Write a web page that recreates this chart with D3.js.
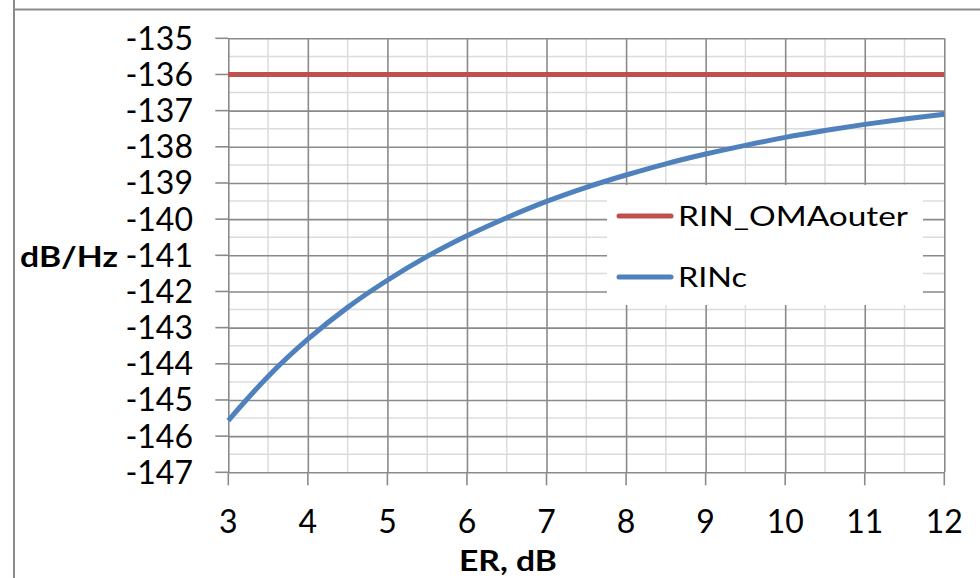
<!DOCTYPE html>
<html>
<head>
<meta charset="utf-8">
<script src="https://cdn.jsdelivr.net/npm/d3@7/dist/d3.min.js"></script>
<style>
  html, body { margin: 0; padding: 0; background: #fff; }
  svg { display: block; }
  text { font-family: Lato, "Noto Sans", sans-serif; fill: #000; }
</style>
</head>
<body>
<svg id="chart" width="980" height="578"></svg>
<script>
// ---- data ----
const erValues = [3, 3.5, 4, 4.5, 5, 5.5, 6, 6.5, 7, 7.5, 8, 8.5, 9, 9.5, 10, 10.5, 11, 11.5, 12];
const rinOMAouter = [-136, -136, -136, -136, -136, -136, -136, -136, -136, -136, -136, -136, -136, -136, -136, -136, -136, -136, -136];
const rinC = [-145.57, -144.35, -143.32, -142.44, -141.69, -141.03, -140.46, -139.96, -139.51, -139.12, -138.78, -138.47, -138.20, -137.96, -137.74, -137.55, -137.38, -137.23, -137.10];
const xTicks = [3, 4, 5, 6, 7, 8, 9, 10, 11, 12];
const yTicks = [-135, -136, -137, -138, -139, -140, -141, -142, -143, -144, -145, -146, -147];
const seriesNames = ["RIN_OMAouter", "RINc"];
const xTitle = "ER, dB";
const yTitle = "dB/Hz";

// ---- layout ----
const svg = d3.select("#chart");
const x = d3.scaleLinear().domain([3, 12]).range([228.3, 944.3]);
const y = d3.scaleLinear().domain([-147, -135]).range([472.3, 38.3]);
const colors = ["#C0504D", "#4F81BD"];
const majorCol = "#8a8a8a", minorCol = "#dcdcdc";

// outer frame
svg.append("line").attr("x1", 14).attr("x2", 14).attr("y1", 0).attr("y2", 578)
  .attr("stroke", "#8c8c8c").attr("stroke-width", 2);
svg.append("line").attr("x1", 14).attr("x2", 980).attr("y1", 9.5).attr("y2", 9.5)
  .attr("stroke", "#8c8c8c").attr("stroke-width", 2);

const g = svg.append("g");

// minor gridlines
const xMinor = d3.range(3.5, 12, 1);
const yMinor = d3.range(-146.5, -135, 1);
g.selectAll("line.xmin").data(xMinor).join("line")
  .attr("x1", d => x(d)).attr("x2", d => x(d)).attr("y1", y(-135)).attr("y2", y(-147))
  .attr("stroke", minorCol).attr("stroke-width", 1.5);
g.selectAll("line.ymin").data(yMinor).join("line")
  .attr("y1", d => y(d)).attr("y2", d => y(d)).attr("x1", x(3)).attr("x2", x(12))
  .attr("stroke", minorCol).attr("stroke-width", 1.5);

// major gridlines via axes
const yAxis = d3.axisLeft(y).tickValues(yTicks).tickSize(-(x(12) - x(3))).tickFormat("");
const xAxis = d3.axisBottom(x).tickValues(xTicks).tickSize(-(y(-147) - y(-135))).tickFormat("");
g.append("g").attr("transform", `translate(${x(3)},0)`).call(yAxis)
  .call(s => s.select(".domain").remove())
  .call(s => s.selectAll("line").attr("stroke", majorCol).attr("stroke-width", 1.6));
g.append("g").attr("transform", `translate(0,${y(-147)})`).call(xAxis)
  .call(s => s.select(".domain").remove())
  .call(s => s.selectAll("line").attr("stroke", majorCol).attr("stroke-width", 1.6));

// outside tick marks
g.selectAll("line.ytk").data(yTicks).join("line")
  .attr("x1", x(3) - 13).attr("x2", x(3)).attr("y1", d => y(d)).attr("y2", d => y(d))
  .attr("stroke", majorCol).attr("stroke-width", 1.6);
g.selectAll("line.xtk").data(xTicks).join("line")
  .attr("y1", y(-147)).attr("y2", y(-147) + 13).attr("x1", d => x(d)).attr("x2", d => x(d))
  .attr("stroke", majorCol).attr("stroke-width", 1.6);

// tick labels
g.selectAll("text.ylab").data(yTicks).join("text")
  .attr("x", 193).attr("y", d => y(d) + 11.5).attr("text-anchor", "end")
  .attr("font-size", 32).text(d => d3.format("d")(d).replace("−", "-"));
g.selectAll("text.xlab").data(xTicks).join("text")
  .attr("x", d => x(d)).attr("y", 533).attr("text-anchor", "middle")
  .attr("font-size", 32).text(d => d);

// axis titles
svg.append("text").attr("x", 20).attr("y", 267).attr("font-size", 29).attr("font-weight", "bold")
  .attr("textLength", 98).attr("lengthAdjust", "spacingAndGlyphs").text(yTitle);
svg.append("text").attr("x", 459).attr("y", 571).attr("font-size", 29).attr("font-weight", "bold")
  .attr("textLength", 98).attr("lengthAdjust", "spacingAndGlyphs").text(xTitle);

// series
const line = d3.line().x((d, i) => x(erValues[i])).y(d => y(d)).curve(d3.curveMonotoneX);
[rinOMAouter, rinC].forEach((s, k) => {
  g.append("path").attr("d", line(s)).attr("fill", "none")
    .attr("stroke", colors[k]).attr("stroke-width", 5).attr("stroke-linecap", "butt");
});

// legend
const lg = svg.append("g");
lg.append("rect").attr("x", 607).attr("y", 185).attr("width", 316).attr("height", 120).attr("fill", "#fff");
const legY = [216, 277];
const legLen = [230, 69];
seriesNames.forEach((n, k) => {
  lg.append("line").attr("x1", 619).attr("x2", 671).attr("y1", legY[k]).attr("y2", legY[k])
    .attr("stroke", colors[k]).attr("stroke-width", 5).attr("stroke-linecap", "round");
  lg.append("text").attr("x", 678).attr("y", legY[k] + 10).attr("font-size", 27)
    .attr("textLength", legLen[k]).attr("lengthAdjust", "spacingAndGlyphs").text(n);
});
</script>
</body>
</html>
